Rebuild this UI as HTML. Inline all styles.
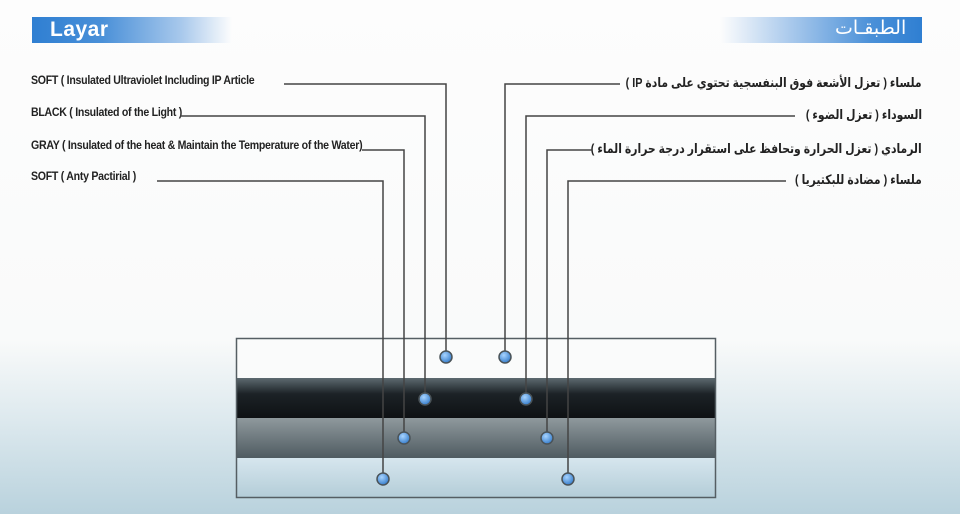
<!DOCTYPE html>
<html><head><meta charset="utf-8"><style>
body{margin:0;width:960px;height:514px;overflow:hidden;background:linear-gradient(#fdfdfd 0,#f9fafa 340px,#dde9ee 420px,#b9d2dd 514px);font-family:"Liberation Sans",sans-serif;position:relative}
.t{position:absolute;font-weight:bold;font-size:11.5px;color:#222;letter-spacing:-0.3px;transform:scaleX(0.92);transform-origin:left;white-space:nowrap}
.a{position:absolute;font-weight:bold;font-size:13px;color:#222;direction:rtl;font-family:"Liberation Sans","DejaVu Sans",sans-serif;white-space:nowrap;transform:scaleX(0.83);transform-origin:right}
</style></head><body>
<div style="position:absolute;left:32px;top:17px;width:200px;height:26px;background:linear-gradient(90deg,#2f7fd2 0,#4a90d8 35%,#a9c9ec 75%,#fdfdfd 100%)"></div>
<div style="position:absolute;left:50px;top:18px;color:#fff;font-size:21px;font-weight:bold;letter-spacing:0.5px">Layar</div>
<div style="position:absolute;left:720px;top:17px;width:202px;height:26px;background:linear-gradient(270deg,#2f7fd2 0,#4a90d8 25%,#a9c9ec 65%,#fdfdfd 100%)"></div>
<div style="position:absolute;left:835px;top:17px;color:#fff;font-size:19px;font-family:'DejaVu Sans',sans-serif">الطبقـات</div>
<div class="t" style="left:31px;top:75px">SOFT ( Insulated Ultraviolet Including IP Article</div>
<div class="t" style="left:31px;top:107px">BLACK ( Insulated of the Light )</div>
<div class="t" style="left:31px;top:140px">GRAY ( Insulated of the heat &amp; Maintain the Temperature of the Water)</div>
<div class="t" style="left:31px;top:171px">SOFT ( Anty Pactirial )</div>
<div class="a" style="right:38px;top:75px">ملساء ( تعزل الأشعة فوق البنفسجية تحتوي على مادة IP )</div>
<div class="a" style="right:38px;top:107px">السوداء ( تعزل الضوء )</div>
<div class="a" style="right:38px;top:141px">الرمادي ( تعزل الحرارة وتحافظ على استقرار درجة حرارة الماء )</div>
<div class="a" style="right:38px;top:172px">ملساء ( مضادة للبكتيريا )</div>
<svg width="960" height="514" style="position:absolute;left:0;top:0">
<defs><radialGradient id="g" cx="0.4" cy="0.35" r="0.7"><stop offset="0" stop-color="#a8d4ff"/><stop offset="1" stop-color="#2f78c8"/></radialGradient>
<linearGradient id="k" x1="0" y1="0" x2="0" y2="1"><stop offset="0" stop-color="#5d6a70"/><stop offset="0.4" stop-color="#1c2226"/><stop offset="1" stop-color="#0e1114"/></linearGradient>
<linearGradient id="gr" x1="0" y1="0" x2="0" y2="1"><stop offset="0" stop-color="#8f999d"/><stop offset="1" stop-color="#4f5b61"/></linearGradient>
<linearGradient id="lb" x1="0" y1="0" x2="0" y2="1"><stop offset="0" stop-color="#d6e6ee"/><stop offset="1" stop-color="#b4cdd8"/></linearGradient></defs>
<rect x="236" y="338" width="480" height="40" fill="#fafbfb"/>
<rect x="236" y="378" width="480" height="40" fill="url(#k)"/>
<rect x="236" y="418" width="480" height="40" fill="url(#gr)"/>
<rect x="236" y="458" width="480" height="39" fill="url(#lb)"/>
<rect x="236.5" y="338.5" width="479" height="159" fill="none" stroke="#555e63" stroke-width="1.5"/>
<g fill="none" stroke="#444" stroke-width="1.5">
<polyline points="284,84 446,84 446,356"/>
<polyline points="180,116 425,116 425,398"/>
<polyline points="362,150 404,150 404,437"/>
<polyline points="157,181 383,181 383,478"/>
<polyline points="620,84 505,84 505,356"/>
<polyline points="795,116 526,116 526,398"/>
<polyline points="592,150 547,150 547,437"/>
<polyline points="786,181 568,181 568,478"/>
</g>
<g fill="url(#g)" stroke="#4a5358" stroke-width="1.5">
<circle cx="446" cy="357" r="6"/><circle cx="505" cy="357" r="6"/>
<circle cx="425" cy="399" r="6"/><circle cx="526" cy="399" r="6"/>
<circle cx="404" cy="438" r="6"/><circle cx="547" cy="438" r="6"/>
<circle cx="383" cy="479" r="6"/><circle cx="568" cy="479" r="6"/>
</g></svg>
</body></html>
